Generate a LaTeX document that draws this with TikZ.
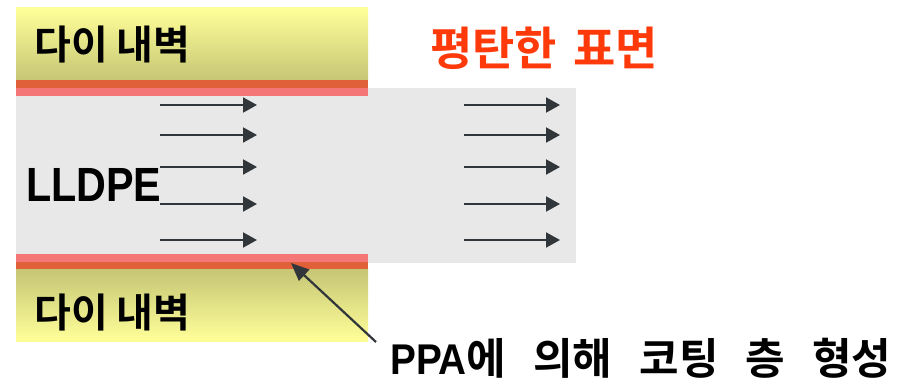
\documentclass[tikz,border=0pt]{standalone}
\usepackage{fontspec}
\setmainfont{Noto Sans CJK KR}[BoldFont={Noto Sans CJK KR Bold}]
\newfontfamily\latinsans{Liberation Sans}
\usetikzlibrary{arrows.meta}
\definecolor{wallTop}{HTML}{FFFF99}
\definecolor{wallBot}{HTML}{C6C676}
\definecolor{coatRed}{HTML}{E0603A}
\definecolor{coatPink}{HTML}{F47676}
\definecolor{meltGray}{HTML}{E8E8E8}
\definecolor{arrowGray}{HTML}{30363A}
\definecolor{titleRed}{HTML}{FF3A0A}
\tikzset{
  flow/.style={draw=arrowGray, line width=2pt, -{Triangle[length=14pt,width=15pt]}},
  callout/.style={draw=arrowGray, line width=2.2pt, -{Triangle[length=18pt,width=15pt]}},
  label/.style={font=\bfseries\fontsize{40}{46}\selectfont, text=black, inner sep=0pt},
}
\begin{document}
\begin{tikzpicture}[x=1pt,y=-1pt]
\useasboundingbox (0,0) rectangle (903,382);
% melt region
\fill[meltGray] (16,88) rectangle (576,263);
% top wall
\shade[top color=wallTop, bottom color=wallBot] (16,8) rectangle (368,80);
\fill[coatRed] (16,80) rectangle (368,88);
\fill[coatPink] (16,88) rectangle (368,96);
% bottom wall
\fill[coatPink] (16,254) rectangle (368,262);
\fill[coatRed] (16,262) rectangle (368,270);
\shade[top color=wallBot, bottom color=wallTop] (16,270) rectangle (368,341);
% texts
\node[label, anchor=west] (topwall) at (34,45) {다이 내벽};
\node[label, anchor=west] (botwall) at (34,313) {다이 내벽};
\node[label, anchor=west, font=\latinsans\bfseries\fontsize{48}{54}\selectfont] (lldpe) at (26,185) {\scalebox{0.86}[1]{LLDPE}};
\node[label, anchor=west, text=titleRed, font=\bfseries\fontsize{46}{52}\selectfont] (flat) at (430,48) {평탄한\hspace{16pt}표면};
\node[label, anchor=west, font=\bfseries\fontsize{43}{48}\selectfont] (ppa) at (390,358) {{\latinsans\bfseries\scalebox{0.9}[1]{PPA}}에\hspace{27pt}의해\hspace{27pt}코팅\hspace{27pt}층\hspace{27pt}형성};
% flow arrows
\foreach \yy [count=\i] in {105,135,167,204,240} {
  \coordinate (la\i) at (160,\yy);
  \coordinate (lb\i) at (257,\yy);
  \coordinate (ra\i) at (464,\yy);
  \coordinate (rb\i) at (560,\yy);
  \draw[flow] (la\i) -- (lb\i);
  \draw[flow] (ra\i) -- (rb\i);
}
% callout
\coordinate (ctail) at (376,342);
\coordinate (chead) at (291,263);
\draw[callout] (ctail) -- (chead);
\end{tikzpicture}
\end{document}
